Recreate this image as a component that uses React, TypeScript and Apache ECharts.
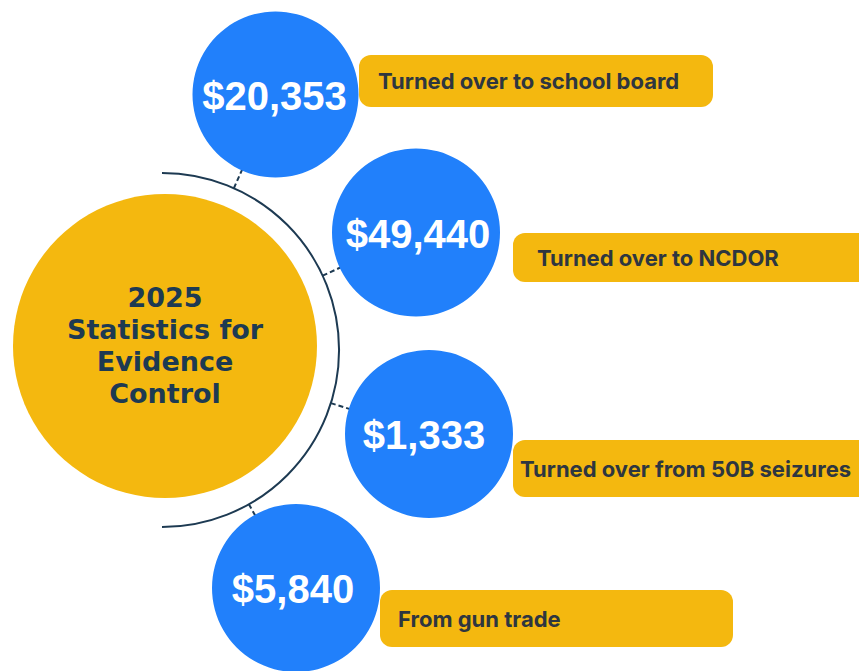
import React, { useEffect, useRef } from "react";
import * as echarts from "echarts";

// ---- data ----
const titleLines = ["2025", "Statistics for", "Evidence", "Control"];
const amounts = [20353, 49440, 1333, 5840];
const descriptions = [
  "Turned over to school board",
  "Turned over to NCDOR",
  "Turned over from 50B seizures",
  "From gun trade",
];

// ---- layout (positions / sizes) ----
const W = 859;
const H = 671;
const hub = { cx: 165, cy: 346, r: 152 };
const ring = { cx: 162, cy: 350, r: 177 };
const bubbleLayout = [
  { cx: 275.5, cy: 94.5, r: 83, tdx: -1 },
  { cx: 416, cy: 232.5, r: 84, tdx: 2 },
  { cx: 429, cy: 434, r: 84, tdx: -5 },
  { cx: 296, cy: 588, r: 84, tdx: -3 },
];
const boxLayout = [
  { x: 359, y: 55, w: 354, h: 52, tx: 378 },
  { x: 513, y: 233, w: 360, h: 49, tx: 537 },
  { x: 513, y: 440, w: 360, h: 57, tx: 520 },
  { x: 380, y: 590, w: 353, h: 57, tx: 398 },
];

const BLUE = "#2180fb";
const YELLOW = "#f4b80f";
const NAVY = "#1d3a52";
const LABEL = "#2e3640";

function fmt(v: number) {
  return "$" + v.toLocaleString("en-US");
}

export default function App() {
  const ref = useRef<HTMLDivElement>(null);
  useEffect(() => {
    if (!ref.current) return;
    const chart = echarts.init(ref.current, null, { renderer: "svg" });
    const elements: any[] = [];

    // label boxes
    boxLayout.forEach((b, i) => {
      elements.push({
        type: "rect",
        shape: { x: b.x, y: b.y, width: b.w, height: b.h, r: 12 },
        style: { fill: YELLOW },
        z: 1,
      });
      elements.push({
        type: "text",
        x: b.tx,
        y: b.y + b.h / 2,
        style: {
          text: descriptions[i],
          fill: LABEL,
          font: "bold 22px Inter, 'Noto Sans', sans-serif",
          textAlign: "left",
          textVerticalAlign: "middle",
        },
        z: 2,
      });
    });

    // hub circle
    elements.push({
      type: "circle",
      shape: { cx: hub.cx, cy: hub.cy, r: hub.r },
      style: { fill: YELLOW },
      z: 1,
    });
    const lh = 32;
    titleLines.forEach((t, i) => {
      elements.push({
        type: "text",
        x: hub.cx,
        y: 345 - ((titleLines.length - 1) / 2) * lh + i * lh,
        style: {
          text: t,
          fill: NAVY,
          font: "bold 27px 'DejaVu Sans', sans-serif",
          textAlign: "center",
          textVerticalAlign: "middle",
        },
        z: 2,
      });
    });

    // ring arc
    elements.push({
      type: "arc",
      shape: {
        cx: ring.cx,
        cy: ring.cy,
        r: ring.r,
        startAngle: -Math.PI / 2,
        endAngle: Math.PI / 2,
        clockwise: true,
      },
      style: { stroke: NAVY, lineWidth: 2, fill: "none" },
      z: 1,
    });

    // connectors + bubbles
    amounts.forEach((v, i) => {
      const b = bubbleLayout[i];
      const dx = b.cx - ring.cx;
      const dy = b.cy - ring.cy;
      const d = Math.sqrt(dx * dx + dy * dy);
      const ux = dx / d;
      const uy = dy / d;
      const r0 = ring.r;
      const r1 = d - b.r + 2;
      elements.push({
        type: "line",
        shape: {
          x1: ring.cx + ux * r0,
          y1: ring.cy + uy * r0,
          x2: ring.cx + ux * r1,
          y2: ring.cy + uy * r1,
        },
        style: { stroke: NAVY, lineWidth: 2, lineDash: [5, 3] },
        z: 1,
      });
      elements.push({
        type: "circle",
        shape: { cx: b.cx, cy: b.cy, r: b.r },
        style: { fill: BLUE },
        z: 3,
      });
      elements.push({
        type: "text",
        x: b.cx + b.tdx,
        y: b.cy + 1,
        style: {
          text: fmt(v),
          fill: "#ffffff",
          font: "bold 40px 'Liberation Sans', Arial, sans-serif",
          textAlign: "center",
          textVerticalAlign: "middle",
        },
        z: 4,
      });
    });

    chart.setOption({
      animation: false,
      backgroundColor: "#ffffff",
      graphic: { elements },
    });
    return () => chart.dispose();
  }, []);
  return (
    <div
      ref={ref}
      style={{ position: "absolute", left: 0, top: 0, width: W, height: H }}
    />
  );
}
